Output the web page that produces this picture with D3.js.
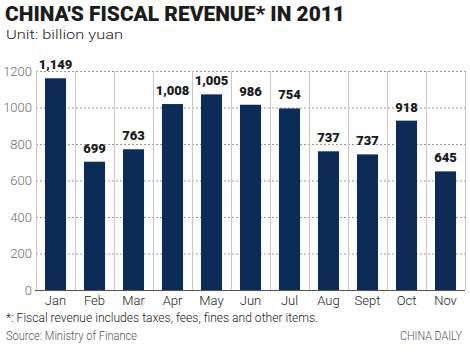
<!DOCTYPE html>
<html>
<head>
<meta charset="utf-8">
<script src="https://cdn.jsdelivr.net/npm/d3@7"></script>
<style>
  body { margin: 0; background: #fff; }
  svg { display: block; }
</style>
</head>
<body>
<div id="chart"></div>
<script>
// months on the x axis
var months = ["Jan", "Feb", "Mar", "Apr", "May", "Jun", "Jul", "Aug", "Sept", "Oct", "Nov"];
// bar heights as drawn in the picture (billion yuan)
var barValues = [1160, 703, 771, 1019, 1072, 1015, 995, 760, 743, 928, 650];
// value labels printed above the bars
var barLabels = ["1,149", "699", "763", "1,008", "1,005", "986", "754", "737", "737", "918", "645"];
// y axis ticks
var yTicks = [0, 200, 400, 600, 800, 1000, 1200];

function init() {

    var width = 470;
    var height = 353;

    // plot area
    var left = 36, right = 465, top = 71, bottom = 290;

    var svg = d3.select("#chart")
        .append("svg")
        .attr("width", width)
        .attr("height", height);

    var x = d3.scaleBand()
        .domain(months)
        .range([left, right])
        .paddingInner(0.46)
        .paddingOuter(0.23);

    var y = d3.scaleLinear()
        .domain([0, 1200])
        .range([bottom, top]);

    // title and unit
    svg.append("text")
        .attr("x", 5)
        .attr("y", 21)
        .attr("textLength", 340)
        .attr("lengthAdjust", "spacingAndGlyphs")
        .style("font-family", "Roboto, 'DejaVu Sans', sans-serif")
        .style("font-weight", "900")
        .style("font-size", "19.5px")
        .style("fill", "#1c1c1c")
        .text("CHINA'S FISCAL REVENUE* IN 2011");

    svg.append("text")
        .attr("x", 6)
        .attr("y", 39)
        .attr("textLength", 117)
        .attr("lengthAdjust", "spacingAndGlyphs")
        .style("font-family", "Roboto, sans-serif")
        .style("font-weight", "300")
        .style("font-size", "13px")
        .style("fill", "#222")
        .text("Unit: billion yuan");

    // horizontal dashed grid
    svg.append("g")
        .selectAll("line")
        .data(yTicks.filter(function (d) { return d > 0; }))
        .enter()
        .append("line")
        .attr("x1", left)
        .attr("x2", right)
        .attr("y1", function (d) { return y(d) + 0.5; })
        .attr("y2", function (d) { return y(d) + 0.5; })
        .style("stroke", "#9a9a9a")
        .style("stroke-width", 1)
        .style("stroke-dasharray", "2,2");

    // vertical separators between months
    var seps = d3.range(months.length + 1).map(function (i) {
        return left + i * x.step();
    });
    svg.append("g")
        .selectAll("line")
        .data(seps)
        .enter()
        .append("line")
        .attr("x1", function (d) { return Math.round(d) + 0.5; })
        .attr("x2", function (d) { return Math.round(d) + 0.5; })
        .attr("y1", y(1200))
        .attr("y2", y(0))
        .style("stroke", "#c8c8c8")
        .style("stroke-width", 1);

    // bars
    svg.append("g")
        .selectAll("rect")
        .data(barValues)
        .enter()
        .append("rect")
        .attr("x", function (d, i) { return x(months[i]); })
        .attr("y", function (d) { return y(d); })
        .attr("width", x.bandwidth())
        .attr("height", function (d) { return y(0) - y(d); })
        .style("fill", "#0c2c57");

    // baseline
    svg.append("line")
        .attr("x1", left - 1)
        .attr("x2", right)
        .attr("y1", y(0) + 0.5)
        .attr("y2", y(0) + 0.5)
        .style("stroke", "#555")
        .style("stroke-width", 1.2);

    // value labels
    svg.append("g")
        .selectAll("text")
        .data(barLabels)
        .enter()
        .append("text")
        .attr("x", function (d, i) { return x(months[i]) + x.bandwidth() / 2; })
        .attr("y", function (d, i) { return y(barValues[i]) - 9; })
        .attr("text-anchor", "middle")
        .style("font-family", "Roboto, 'DejaVu Sans', sans-serif")
        .style("font-weight", "900")
        .style("font-size", "13px")
        .style("fill", "#1a1a1a")
        .text(function (d) { return d; });

    // y axis
    var yAxis = svg.append("g")
        .attr("transform", "translate(" + left + ",0)")
        .call(d3.axisLeft(y).tickValues(yTicks).tickSize(0).tickPadding(4).tickFormat(d3.format("d")));
    yAxis.select(".domain").remove();
    yAxis.selectAll("text")
        .style("font-family", "Roboto, sans-serif")
        .style("font-weight", "300")
        .style("font-size", "13px")
        .style("fill", "#6e6e6e");

    // x axis
    var xAxis = svg.append("g")
        .attr("transform", "translate(0," + bottom + ")")
        .call(d3.axisBottom(x).tickSize(0).tickPadding(6));
    xAxis.select(".domain").remove();
    xAxis.selectAll("text")
        .style("font-family", "Roboto, sans-serif")
        .style("font-weight", "300")
        .style("font-size", "13px")
        .style("fill", "#222");

    // footnotes
    svg.append("text")
        .attr("x", 6)
        .attr("y", 322)
        .attr("textLength", 312)
        .attr("lengthAdjust", "spacingAndGlyphs")
        .style("font-family", "Roboto, sans-serif")
        .style("font-weight", "300")
        .style("font-size", "12.5px")
        .style("fill", "#222")
        .text("*: Fiscal revenue includes taxes, fees, fines and other items.");

    svg.append("text")
        .attr("x", 6)
        .attr("y", 340)
        .attr("textLength", 131)
        .attr("lengthAdjust", "spacingAndGlyphs")
        .style("font-family", "Roboto, sans-serif")
        .style("font-weight", "300")
        .style("font-size", "12px")
        .style("fill", "#555")
        .text("Source: Ministry of Finance");

    svg.append("text")
        .attr("x", 462)
        .attr("y", 340)
        .attr("text-anchor", "end")
        .attr("textLength", 62)
        .attr("lengthAdjust", "spacingAndGlyphs")
        .style("font-family", "Roboto, sans-serif")
        .style("font-weight", "300")
        .style("font-size", "12px")
        .style("fill", "#555")
        .text("CHINA DAILY");
}

window.onload = init;
</script>
</body>
</html>
